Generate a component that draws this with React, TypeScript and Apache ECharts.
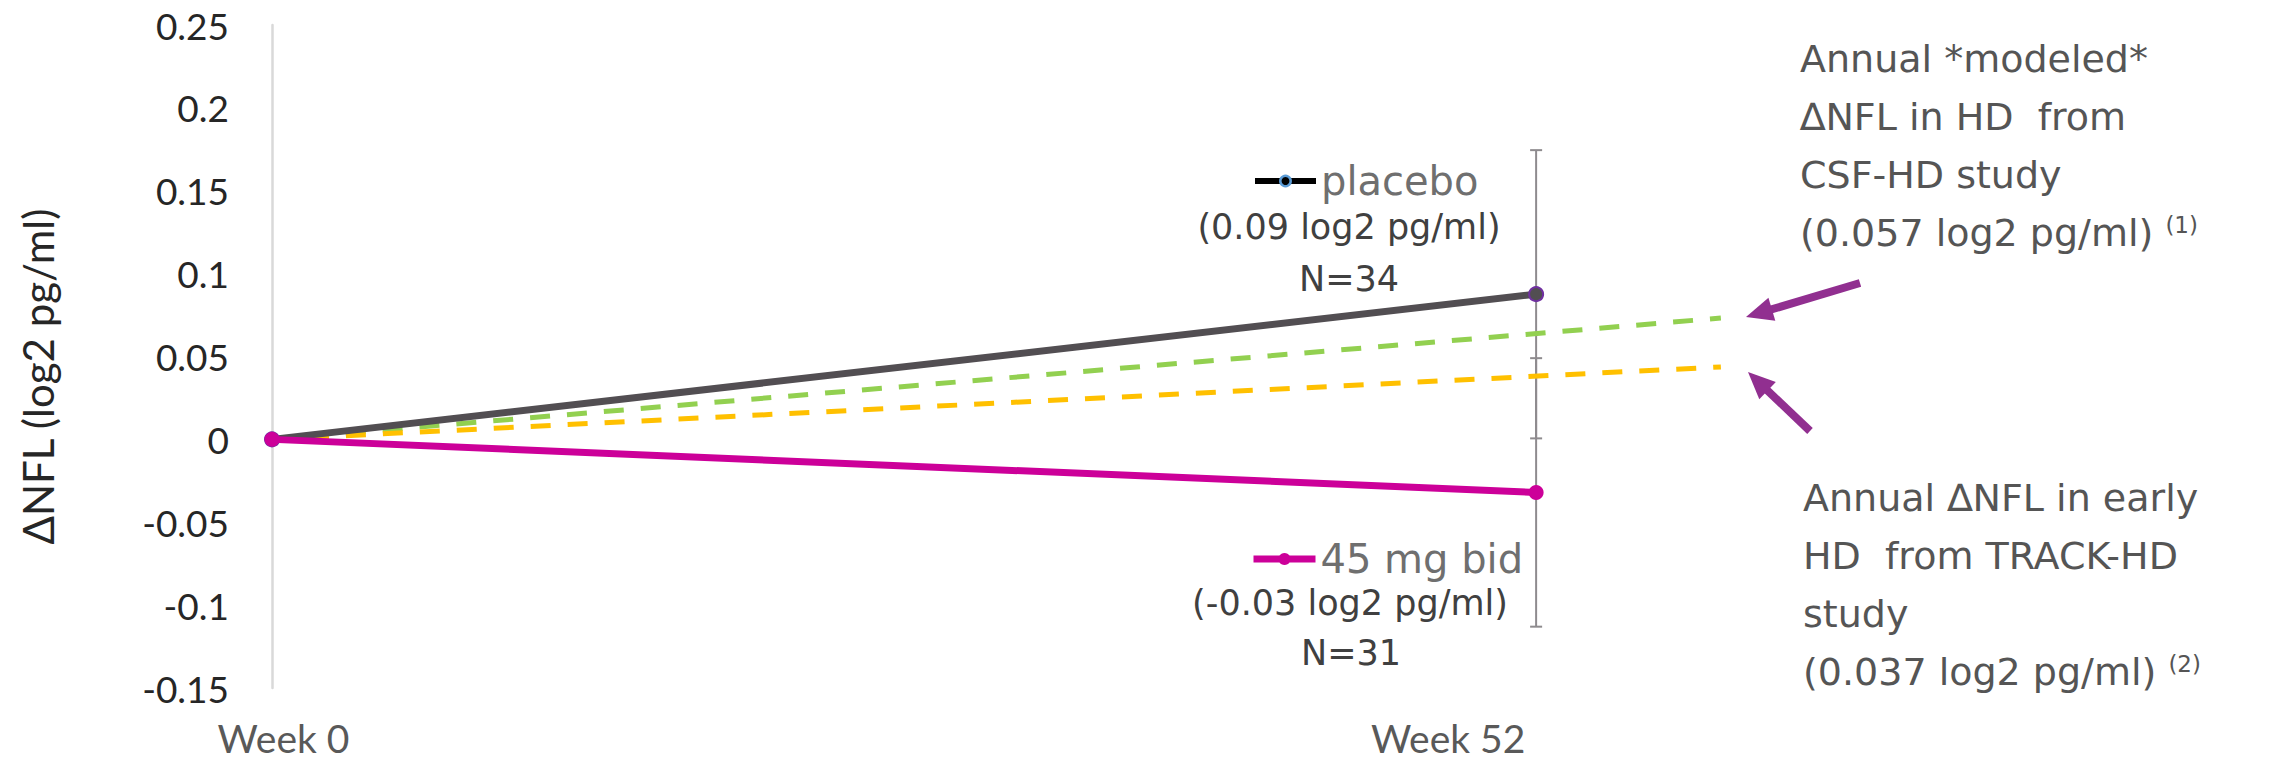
import React, { useEffect, useRef } from 'react';
import * as echarts from 'echarts';

// ---- data ----
const weeks = [0, 52];
const placeboValues = [0, 0.0876];
const mg45Values = [0, -0.032];
const placeboErr = [0.0006, 0.1745]; // low, high at week 52
const mg45Err = [-0.113, 0.049];
const refWeeks = [0, 59.6];
const csfHdValues = [0, 0.0732];
const trackHdValues = [0, 0.0437];
const yMin = -0.15;
const yMax = 0.25;
const yInterval = 0.05;
const xMax = 60;
const xLabelNames: Record<number, string> = { 0: 'Week 0', 52: 'Week 52' };

const seriesNames = ['placebo', '45 mg bid', 'CSF-HD', 'TRACK-HD'];

const placeboNote = ['(0.09 log2 pg/ml)', 'N=34'];
const mg45Note = ['(-0.03 log2 pg/ml)', 'N=31'];
const csfNote = ['Annual *modeled*', '\u2206NFL in HD  from', 'CSF-HD study', '(0.057 log2 pg/ml) {s|(1)}'];
const trackNote = ['Annual \u2206NFL in early', 'HD  from TRACK-HD', 'study', '(0.037 log2 pg/ml) {s|(2)}'];

const C_PLACEBO = '#524E52';
const C_MG = '#CC0099';
const C_GREEN = '#92D050';
const C_YELLOW = '#FFC000';
const C_ERR = '#8E8B8E';
const C_ARROW = '#912F90';
const F_AX = 'Lato';
const F_ANN = '"DejaVu Sans"';

function arrow(tail: number[], tip: number[]) {
  const dx = tip[0] - tail[0];
  const dy = tip[1] - tail[1];
  const len = Math.sqrt(dx * dx + dy * dy);
  const ux = dx / len;
  const uy = dy / len;
  const hl = 27;
  const hw = 12;
  const bx = tip[0] - ux * hl;
  const by = tip[1] - uy * hl;
  const nx = -uy;
  const ny = ux;
  return [
    {
      type: 'line',
      shape: { x1: tail[0], y1: tail[1], x2: bx + ux * 4, y2: by + uy * 4 },
      style: { stroke: C_ARROW, lineWidth: 8 },
    },
    {
      type: 'polygon',
      shape: {
        points: [
          [tip[0], tip[1]],
          [bx + nx * hw, by + ny * hw],
          [bx - nx * hw, by - ny * hw],
        ],
      },
      style: { fill: C_ARROW },
    },
  ];
}

export default function App() {
  const ref = useRef<HTMLDivElement>(null);

  useEffect(() => {
    if (!ref.current) return;
    const chart = echarts.init(ref.current, undefined, { renderer: 'svg' });

    const errRender = (params: any, api: any) => {
      const x = api.value(0);
      const lo = api.value(1);
      const hi = api.value(2);
      const p1 = api.coord([x, lo]);
      const p2 = api.coord([x, hi]);
      const w = 6;
      const style = { stroke: C_ERR, lineWidth: 2 };
      return {
        type: 'group',
        children: [
          { type: 'line', shape: { x1: p1[0], y1: p1[1], x2: p2[0], y2: p2[1] }, style },
          { type: 'line', shape: { x1: p1[0] - w, y1: p1[1], x2: p1[0] + w, y2: p1[1] }, style },
          { type: 'line', shape: { x1: p2[0] - w, y1: p2[1], x2: p2[0] + w, y2: p2[1] }, style },
        ],
      };
    };

    const annText = (x: number, y: number, text: string) => ({
      type: 'text',
      x,
      y,
      style: {
        text,
        fill: '#404040',
        font: `35px ${F_ANN}`,
        align: 'center',
        verticalAlign: 'middle',
      },
    });

    const blockText = (x: number, y: number, lines: string[]) => ({
      type: 'text',
      x,
      y,
      style: {
        text: lines.join('\n'),
        fill: '#555555',
        fontFamily: F_ANN,
        fontSize: 38,
        lineHeight: 58,
        align: 'left',
        verticalAlign: 'top',
        rich: {
          s: {
            fontSize: 23,
            fontFamily: F_ANN,
            fill: '#555555',
            lineHeight: 44,
            verticalAlign: 'top',
            padding: [9, 0, 0, 0],
          },
        },
      },
    });

    const option: any = {
      animation: false,
      backgroundColor: '#ffffff',
      grid: { left: 272, right: 2272 - 1730.6, top: 25, bottom: 77 },
      xAxis: {
        type: 'value',
        min: 0,
        max: xMax,
        interval: 4,
        axisLine: { show: false, onZero: false },
        axisTick: { show: false },
        splitLine: { show: false },
        axisLabel: {
          margin: 33,
          fontSize: 39,
          fontFamily: F_AX,
          color: '#595959',
          formatter: (v: number) => {
            if (v === 0) return '{a|' + xLabelNames[0] + '}';
            if (v === 52) return '{b|' + xLabelNames[52] + '}';
            return '';
          },
          rich: {
            a: { fontSize: 39, fontFamily: F_AX, color: '#595959', lineHeight: 34, padding: [0, 0, 0, 23] },
            b: { fontSize: 39, fontFamily: F_AX, color: '#595959', lineHeight: 34, padding: [0, 176, 0, 0] },
          },
        },
      },
      yAxis: {
        type: 'value',
        min: yMin,
        max: yMax,
        interval: yInterval,
        name: '\u0394NFL (log2 pg/ml)',
        nameLocation: 'middle',
        nameRotate: 90,
        nameGap: 213,
        nameTextStyle: { fontSize: 42, fontFamily: F_AX, color: '#262626', padding: [0, 40, 0, 0] },
        axisLine: { show: true, onZero: false, lineStyle: { color: '#D9D9D9', width: 2.5 } },
        axisTick: { show: false },
        splitLine: { show: false },
        axisLabel: {
          margin: 43,
          fontSize: 37,
          fontFamily: F_AX,
          color: '#262626',
          formatter: (v: number) => String(Math.round(v * 100) / 100),
        },
      },
      legend: [
        {
          data: [
            {
              name: seriesNames[0],
              itemStyle: { color: '#000000', borderColor: '#5B9BD5', borderWidth: 2.5 },
              lineStyle: { color: '#000000', width: 6 },
            },
          ],
          left: 1252,
          top: 159,
          padding: 0,
          itemWidth: 61,
          itemHeight: 13,
          selectedMode: false,
          textStyle: { fontSize: 40, fontFamily: F_ANN, color: '#6F6F6F', lineHeight: 44 },
        },
        {
          data: [
            {
              name: seriesNames[1],
              itemStyle: { color: C_MG, borderWidth: 0 },
              lineStyle: { color: C_MG, width: 7 },
            },
          ],
          left: 1250,
          top: 537,
          padding: 0,
          itemWidth: 62,
          itemHeight: 15,
          selectedMode: false,
          textStyle: { fontSize: 40, fontFamily: F_ANN, color: '#6F6F6F', lineHeight: 44 },
        },
      ],
      series: [
        {
          type: 'custom',
          name: 'placebo error',
          renderItem: errRender,
          encode: { x: 0, y: [1, 2] },
          data: [[weeks[1], placeboErr[0], placeboErr[1]]],
          z: 1,
          silent: true,
        },
        {
          type: 'custom',
          name: '45 mg error',
          renderItem: errRender,
          encode: { x: 0, y: [1, 2] },
          data: [[weeks[1], mg45Err[0], mg45Err[1]]],
          z: 1,
          silent: true,
        },
        {
          type: 'line',
          name: seriesNames[2],
          data: refWeeks.map((w, i) => [w, csfHdValues[i]]),
          symbol: 'none',
          clip: false,
          lineStyle: { color: C_GREEN, width: 5, type: [20, 17] },
          z: 2,
        },
        {
          type: 'line',
          name: seriesNames[3],
          data: refWeeks.map((w, i) => [w, trackHdValues[i]]),
          symbol: 'none',
          clip: false,
          lineStyle: { color: C_YELLOW, width: 5, type: [20, 17] },
          z: 2,
        },
        {
          type: 'line',
          name: seriesNames[0],
          data: weeks.map((w, i) => [w, placeboValues[i]]),
          symbol: 'circle',
          symbolSize: 14,
          showAllSymbol: true,
          itemStyle: { color: C_PLACEBO, borderColor: '#7030A0', borderWidth: 2 },
          lineStyle: { color: C_PLACEBO, width: 7 },
          z: 3,
        },
        {
          type: 'line',
          name: seriesNames[1],
          data: weeks.map((w, i) => [w, mg45Values[i]]),
          symbol: 'circle',
          symbolSize: 15,
          showAllSymbol: true,
          itemStyle: { color: C_MG },
          lineStyle: { color: C_MG, width: 7 },
          z: 4,
        },
      ],
      graphic: [
        annText(1349, 227, placeboNote[0]),
        annText(1349, 279, placeboNote[1]),
        annText(1350, 603, mg45Note[0]),
        annText(1351, 653, mg45Note[1]),
        blockText(1800, 30, csfNote),
        blockText(1803, 469, trackNote),
        ...arrow([1860, 283], [1746, 317]),
        ...arrow([1810, 431], [1748, 372]),
      ],
    };

    chart.setOption(option);
    return () => chart.dispose();
  }, []);

  return (
    <div
      ref={ref}
      style={{ position: 'fixed', left: 0, top: 0, width: '2272px', height: '765px', background: '#fff' }}
    />
  );
}
